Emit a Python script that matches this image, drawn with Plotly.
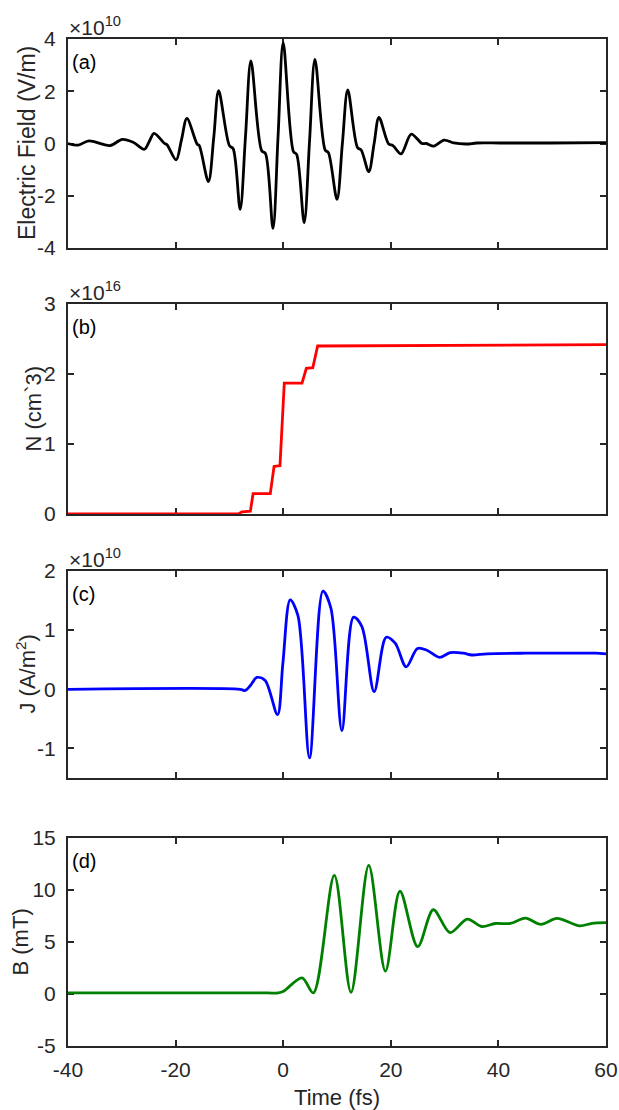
import plotly.graph_objects as go

# ---------------- data ----------------
t_E = [-40, -38.1, -36.1, -32.2, -29.9, -27.9, -25.8, -24.9, -24.0, -22.1, -21.6, -19.9,
       -18.9, -17.9, -16.0, -15.6, -13.9, -12.9, -12.0, -10.0, -9.3, -8.0, -7.0, -6.0,
       -4.0, -3.3, -1.9, -0.95, 0.0, 1.9, 2.5, 3.9, 4.9, 5.9, 7.8, 8.4, 10.0, 11.0, 12.0,
       13.8, 14.5, 15.9, 16.9, 17.8, 19.6, 20.4, 21.9, 23.8, 25.8, 26.6, 28.0, 29.9, 31.7,
       34.1, 36.0, 40.3, 49.6, 60]
E_field = [0.0, -0.06, 0.10, -0.08, 0.16, 0.05, -0.22, 0.08, 0.39, 0.01, -0.05, -0.63,
           0.15, 0.96, -0.02, -0.08, -1.46, 0.25, 2.02, -0.08, -0.2, -2.52, 0.3, 3.16,
           -0.28, -0.38, -3.25, 0.3, 3.86, -0.31, -0.42, -3.03, 0.1, 3.22, -0.25, -0.35,
           -2.14, 0.0, 2.05, -0.15, -0.25, -1.08, 0.0, 1.0, -0.02, -0.08, -0.40, 0.36, 0.0,
           0.0, -0.1, 0.13, 0.02, -0.02, 0.02, 0.02, 0.02, 0.03]  # x 1e10 V/m

t_N = [-40, -8.3, -7.7, -6.1, -5.6, -2.4, -1.7, -0.6, 0.2, 3.5, 4.3, 5.5, 6.4, 60]
N_dens = [0.0, 0.0, 0.03, 0.04, 0.29, 0.29, 0.68, 0.69, 1.87, 1.87, 2.08, 2.09, 2.40, 2.42]  # x 1e16

t_J = [-40, -8.0, -7.06, -6.13, -4.89, -3.35, -1.06, -0.06, 1.30, 2.73, 4.89, 7.38, 8.87,
       10.91, 13.07, 14.63, 16.91, 19.14, 20.82, 22.86, 24.96, 26.71, 29.05, 31.04, 33.51,
       35.07, 37.86, 45, 52, 58, 60]
J_cur = [0.0, 0.0, -0.02, 0.06, 0.20, 0.15, -0.43, 0.44, 1.51, 1.25, -1.16, 1.66, 1.37,
         -0.70, 1.22, 1.06, -0.04, 0.88, 0.78, 0.38, 0.69, 0.66, 0.54, 0.62, 0.61, 0.58,
         0.60, 0.61, 0.61, 0.61, 0.60]  # x 1e10 A/m^2

t_B = [-40, -3.0, -0.9, 0.06, 3.5, 5.6, 9.5, 12.6, 15.9, 19.0, 21.7, 25.0, 27.9, 31.0,
       34.2, 36.9, 39.4, 42.2, 45.0, 47.9, 50.9, 55.1, 57.4, 60]
B_mag = [0.1, 0.1, 0.1, 0.26, 1.55, 0.1, 11.4, 0.16, 12.36, 2.2, 9.88, 4.55, 8.1, 5.9,
         7.2, 6.49, 6.78, 6.78, 7.3, 6.7, 7.27, 6.55, 6.8, 6.87]  # mT

x_ticks = [-40, -20, 0, 20, 40, 60]
panel_labels = ["(a)", "(b)", "(c)", "(d)"]
exponents = ["10", "16", "10", None]
y_titles = ["Electric Field (V/m)", "N (cm`3)", "J (A/m<sup>2</sup>)", "B (mT)"]
y_ranges = [[-4, 4], [0, 3], [-1.5, 2], [-5, 15]]
y_ticks = [[-4, -2, 0, 2, 4], [0, 1, 2, 3], [-1, 0, 1, 2], [-5, 0, 5, 10, 15]]

# ---------------- layout geometry ----------------
W, H = 619, 1110
x_left, x_right = 68, 606
panels_px = [(39, 248), (304, 514), (571, 778), (838, 1046)]  # (top, bottom) in px
ytitle_x_px = [26.5, 32.5, 25, 19.5]
ytitle_size = [23, 22, 22, 22]

FONT = "Liberation Sans, Arial, sans-serif"
AX = "#262626"


def lbl(v):
    return str(v).replace("−", "-")


fig = go.Figure()
series = [(t_E, E_field, "#000000"), (t_N, N_dens, "#ff0000"),
          (t_J, J_cur, "#0000ff"), (t_B, B_mag, "#008000")]
for i, (tx, ty, col) in enumerate(series):
    k = "" if i == 0 else str(i + 1)
    fig.add_trace(go.Scatter(
        x=tx, y=ty, mode="lines",
        line=dict(color=col, width=2.8,
                  shape="linear" if i == 1 else "spline", smoothing=0.9),
        xaxis="x" + k, yaxis="y" + k, showlegend=False, hoverinfo="skip"))

layout = dict(
    width=W, height=H, margin=dict(l=0, r=0, t=0, b=0),
    plot_bgcolor="white", paper_bgcolor="white",
    font=dict(family=FONT, size=21, color=AX),
    annotations=[],
)

for i in range(4):
    k = "" if i == 0 else str(i + 1)
    top, bot = panels_px[i]
    ydom = [1 - bot / H, 1 - top / H]
    common = dict(showline=True, mirror="ticks", linecolor=AX, linewidth=2,
                  ticks="inside", ticklen=6, tickwidth=2, tickcolor=AX,
                  showgrid=False, zeroline=False, automargin=False,
                  tickfont=dict(family=FONT, size=21, color=AX),
                  layer="below traces")
    xa = dict(common, domain=[x_left / W, x_right / W], anchor="y" + k,
              range=[-40, 60], tickvals=x_ticks,
              ticktext=[lbl(v) for v in x_ticks],
              showticklabels=(i == 3), ticklabelstandoff=4)
    if i == 3:
        xa["title"] = dict(text="Time (fs)", font=dict(family=FONT, size=22, color=AX),
                           standoff=9)
    layout["xaxis" + k] = xa
    layout["yaxis" + k] = dict(
        common, domain=ydom, anchor="x" + k, range=y_ranges[i],
        tickvals=y_ticks[i], ticktext=[lbl(v) for v in y_ticks[i]],
        ticklabelstandoff=6)
    # y-axis title
    layout["annotations"].append(dict(
        text=y_titles[i], xref="paper", yref="paper", textangle=-90,
        x=ytitle_x_px[i] / W, y=1 - (top + bot) / 2 / H,
        xanchor="center", yanchor="middle", showarrow=False,
        font=dict(family=FONT, size=ytitle_size[i], color=AX)))
    # panel label
    layout["annotations"].append(dict(
        text=panel_labels[i], xref="paper", yref="paper",
        x=70 / W, y=1 - (top + 23) / H, xanchor="left", yanchor="middle",
        showarrow=False, font=dict(family=FONT, size=20, color="#000000")))
    # exponent
    if exponents[i]:
        layout["annotations"].append(dict(
            text="×10<sup>" + exponents[i] + "</sup>", xref="paper", yref="paper",
            x=67 / W, y=1 - (top + 2) / H, xanchor="left", yanchor="bottom",
            showarrow=False, font=dict(family=FONT, size=21, color=AX)))

fig.update_layout(**layout)
fig.write_html("out.html", config={"displayModeBar": False},
               post_script="document.body.style.margin='0';"
                           "document.body.style.overflow='hidden';")
